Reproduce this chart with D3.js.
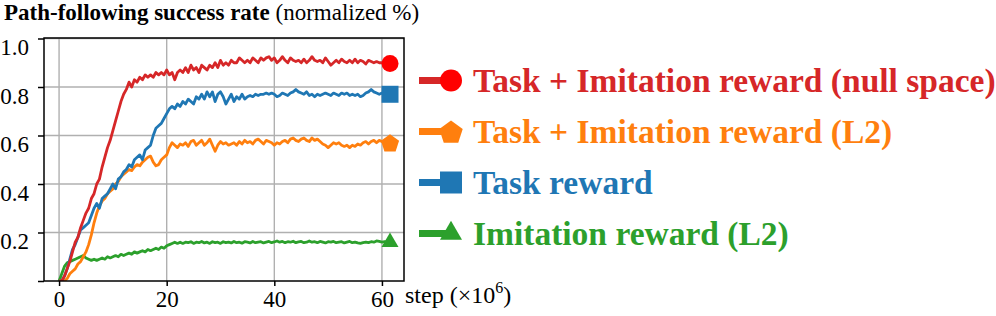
<!DOCTYPE html>
<html>
<head>
<meta charset="utf-8">
<script src="https://cdn.jsdelivr.net/npm/d3@7"></script>
<style>
  body { margin: 0; background: #fff; }
  svg { display: block; }
  svg text { font-family: "Liberation Serif", Tinos, "DejaVu Serif", serif; }
</style>
</head>
<body>
<svg width="996" height="316"></svg>
<script>
// training curves, one value every 0.5 x 10^6 steps
var stepSize = 0.5;

var nullSpace = [
  0, 0, 0.02, 0.05, 0.08, 0.12, 0.16, 0.18, 0.22, 0.25,
  0.28, 0.30, 0.34, 0.36, 0.40, 0.42, 0.47, 0.51, 0.55, 0.58,
  0.62, 0.66, 0.70, 0.74, 0.77, 0.79, 0.82, 0.80, 0.83, 0.82,
  0.84, 0.83, 0.85, 0.84, 0.85, 0.84, 0.86, 0.85, 0.86, 0.85,
  0.87, 0.85, 0.86, 0.83, 0.86, 0.87, 0.86, 0.88, 0.86, 0.89,
  0.87, 0.88, 0.86, 0.89, 0.88, 0.87, 0.89, 0.88, 0.90, 0.88,
  0.91, 0.89, 0.90, 0.89, 0.91, 0.90, 0.90, 0.92, 0.91, 0.90,
  0.91, 0.90, 0.92, 0.91, 0.90, 0.92, 0.91, 0.92, 0.925, 0.91,
  0.92, 0.90, 0.91, 0.925, 0.91, 0.90, 0.92, 0.91, 0.905, 0.91,
  0.90, 0.915, 0.90, 0.91, 0.925, 0.91, 0.905, 0.91, 0.90, 0.92,
  0.905, 0.89, 0.90, 0.91, 0.90, 0.915, 0.905, 0.90, 0.91, 0.90,
  0.915, 0.90, 0.91, 0.905, 0.895, 0.91, 0.905, 0.90, 0.905, 0.90,
  0.90, 0.895, 0.90, 0.897
];

var taskImitL2 = [
  0, 0, 0, 0.01, 0.03, 0.04, 0.05, 0.07, 0.08, 0.10,
  0.12, 0.15, 0.19, 0.24, 0.28, 0.31, 0.33, 0.34, 0.36, 0.37,
  0.38, 0.40, 0.41, 0.43, 0.44, 0.45, 0.46, 0.455, 0.47, 0.48,
  0.475, 0.49, 0.50, 0.51, 0.515, 0.49, 0.475, 0.48, 0.50, 0.51,
  0.52, 0.55, 0.57, 0.56, 0.55, 0.565, 0.56, 0.57, 0.555, 0.575,
  0.58, 0.56, 0.57, 0.58, 0.56, 0.57, 0.585, 0.56, 0.535, 0.56,
  0.575, 0.565, 0.57, 0.56, 0.565, 0.57, 0.56, 0.575, 0.565, 0.58,
  0.57, 0.575, 0.565, 0.58, 0.585, 0.575, 0.565, 0.58, 0.575, 0.57,
  0.56, 0.57, 0.565, 0.575, 0.58, 0.57, 0.585, 0.59, 0.58, 0.575,
  0.585, 0.59, 0.58, 0.575, 0.59, 0.58, 0.585, 0.575, 0.565, 0.56,
  0.55, 0.56, 0.57, 0.565, 0.57, 0.56, 0.555, 0.56, 0.55, 0.56,
  0.555, 0.565, 0.56, 0.57, 0.575, 0.565, 0.575, 0.58, 0.57, 0.58,
  0.575, 0.57, 0.575, 0.57
];

var taskOnly = [
  0, 0, 0.02, 0.05, 0.09, 0.13, 0.15, 0.18, 0.21, 0.22,
  0.23, 0.24, 0.27, 0.30, 0.32, 0.30, 0.34, 0.35, 0.36, 0.38,
  0.40, 0.38, 0.42, 0.43, 0.45, 0.46, 0.48, 0.47, 0.50, 0.51,
  0.52, 0.50, 0.54, 0.55, 0.56, 0.60, 0.63, 0.64, 0.65, 0.67,
  0.69, 0.71, 0.72, 0.71, 0.73, 0.72, 0.74, 0.73, 0.75, 0.74,
  0.73, 0.76, 0.75, 0.77, 0.75, 0.78, 0.76, 0.78, 0.74, 0.77,
  0.78, 0.76, 0.73, 0.75, 0.77, 0.74, 0.76, 0.75, 0.77, 0.75,
  0.76, 0.765, 0.76, 0.77, 0.765, 0.77, 0.77, 0.775, 0.77, 0.775,
  0.77, 0.76, 0.765, 0.775, 0.77, 0.765, 0.775, 0.78, 0.79, 0.78,
  0.775, 0.77, 0.78, 0.765, 0.77, 0.76, 0.77, 0.765, 0.77, 0.775,
  0.77, 0.765, 0.775, 0.77, 0.765, 0.775, 0.77, 0.775, 0.765, 0.77,
  0.765, 0.77, 0.76, 0.765, 0.775, 0.78, 0.79, 0.78, 0.775, 0.77,
  0.775, 0.77, 0.77, 0.77
];

var imitL2 = [
  0, 0.03, 0.06, 0.075, 0.08, 0.085, 0.09, 0.095, 0.10, 0.105,
  0.095, 0.09, 0.085, 0.09, 0.085, 0.09, 0.095, 0.09, 0.10, 0.095,
  0.10, 0.105, 0.10, 0.11, 0.105, 0.11, 0.115, 0.11, 0.12, 0.115,
  0.12, 0.125, 0.12, 0.13, 0.125, 0.13, 0.135, 0.13, 0.14, 0.135,
  0.145, 0.15, 0.155, 0.16, 0.155, 0.16, 0.155, 0.16, 0.158, 0.162,
  0.155, 0.16, 0.158, 0.163, 0.157, 0.16, 0.155, 0.162, 0.158, 0.16,
  0.155, 0.162, 0.158, 0.16, 0.157, 0.163, 0.158, 0.16, 0.156, 0.162,
  0.16, 0.157, 0.163, 0.158, 0.16, 0.162, 0.157, 0.16, 0.163, 0.158,
  0.161, 0.165, 0.16, 0.163, 0.158, 0.162, 0.16, 0.164, 0.158, 0.161,
  0.163, 0.158, 0.16, 0.165, 0.16, 0.162, 0.158, 0.163, 0.16, 0.157,
  0.162, 0.16, 0.163, 0.158, 0.16, 0.162, 0.157, 0.16, 0.163, 0.158,
  0.16, 0.157, 0.155, 0.158, 0.16, 0.158, 0.162, 0.16, 0.165, 0.163,
  0.16, 0.162, 0.16, 0.16
];

var seriesNames = [
  'Task + Imitation reward (null space)',
  'Task + Imitation reward (L2)',
  'Task reward',
  'Imitation reward (L2)'
];
var seriesValues = [nullSpace, taskImitL2, taskOnly, imitL2];
var xTicks = [0, 20, 40, 60];
var yTicks = [0, 0.2, 0.4, 0.6, 0.8, 1.0];

var lineColors = ['#d62728', '#ff7f0e', '#1f77b4', '#2ca02c'];
var markerColors = ['#ff0000', '#ff7f0e', '#1f77b4', '#2ca02c'];
var markerKinds = ['circle', 'pentagon', 'square', 'triangle'];

var serif = '"Liberation Serif", Tinos, "DejaVu Serif", serif';

function markerPath(kind, s) {
  // s = rough marker width in px
  if (kind === 'circle') return d3.symbol(d3.symbolCircle, Math.PI * (s / 2) * (s / 2))();
  if (kind === 'square') return d3.symbol(d3.symbolSquare, s * s)();
  if (kind === 'triangle') return d3.symbol(d3.symbolTriangle, Math.sqrt(3) / 4 * s * s)();
  // pentagon, point up
  var r = s * 0.56, pts = [];
  for (var k = 0; k < 5; k++) {
    var a = -Math.PI / 2 + k * 2 * Math.PI / 5;
    pts.push([r * Math.cos(a), r * Math.sin(a) + r * 0.1]);
  }
  return 'M' + pts.join('L') + 'Z';
}

function main() {
  var svg = d3.select('svg');
  var left = 44, right = 404, top = 38, bottom = 281;

  var x = d3.scaleLinear().domain([-2.8, 64.1]).range([left, right]);
  var y = d3.scaleLinear().domain([0, 1]).range([bottom, top + 0.5]);

  // title
  var title = svg.append('text').attr('x', 4).attr('y', 20).attr('font-size', 23)
    .attr('font-family', serif).attr('fill', '#000');
  title.append('tspan').attr('font-weight', 'bold').text('Path-following success rate');
  title.append('tspan').text(' (normalized %)');

  // grid
  var grid = svg.append('g').attr('stroke', '#b0b0b0').attr('stroke-width', 1.4);
  grid.selectAll('.gx').data(xTicks).enter().append('line')
    .attr('x1', d => x(d)).attr('x2', d => x(d))
    .attr('y1', top).attr('y2', bottom);
  grid.selectAll('.gy').data(yTicks.filter(d => d > 0)).enter().append('line')
    .attr('x1', left).attr('x2', right)
    .attr('y1', d => y(d)).attr('y2', d => y(d));

  // curves
  var line = d3.line()
    .x((d, i) => x(i * stepSize))
    .y(d => y(d));

  svg.append('defs').append('clipPath').attr('id', 'plotclip')
    .append('rect').attr('x', left).attr('y', top).attr('width', right - left).attr('height', bottom - top);

  var curves = svg.append('g').attr('clip-path', 'url(#plotclip)');
  // draw bottom series first so red ends up on top
  [3, 1, 2, 0].forEach(function(k) {
    curves.append('path')
      .attr('d', line(seriesValues[k]))
      .attr('fill', 'none')
      .attr('stroke', lineColors[k])
      .attr('stroke-width', 2.8)
      .attr('stroke-linejoin', 'round');
  });

  // end markers
  seriesValues.forEach(function(vals, k) {
    var last = vals.length - 1;
    svg.append('path')
      .attr('d', markerPath(markerKinds[k], 17))
      .attr('transform', 'translate(' + x(last * stepSize) + ',' + y(vals[last]) + ')')
      .attr('fill', markerColors[k]);
  });

  // axes frame
  svg.append('rect')
    .attr('x', left).attr('y', top)
    .attr('width', right - left).attr('height', bottom - top)
    .attr('fill', 'none').attr('stroke', '#000').attr('stroke-width', 1.5);

  var xAxis = svg.append('g')
    .attr('transform', 'translate(0,' + bottom + ')')
    .call(d3.axisBottom(x).tickValues(xTicks).tickSize(5).tickPadding(5).tickFormat(d3.format('d')));
  xAxis.select('.domain').remove();
  xAxis.selectAll('line').attr('stroke-width', 1.5);
  xAxis.selectAll('text').attr('font-size', 23).attr('font-family', serif).attr('fill', '#000');

  var yAxis = svg.append('g')
    .attr('transform', 'translate(' + left + ',0)')
    .call(d3.axisLeft(y).tickValues(yTicks).tickSize(6).tickPadding(9)
      .tickFormat(d => d === 0 ? '' : d3.format('.1f')(d)));
  yAxis.select('.domain').remove();
  yAxis.selectAll('line').attr('stroke-width', 1.5);
  yAxis.selectAll('text').attr('font-size', 23).attr('font-family', serif)
    .attr('fill', '#000').attr('dy', '0.7em');

  // x label
  var xl = svg.append('text').attr('x', 405).attr('y', 303).attr('font-size', 24)
    .attr('font-family', serif).attr('fill', '#000');
  xl.append('tspan').text('step (\u00d710');
  xl.append('tspan').attr('dy', -10).attr('font-size', 16).text('6');
  xl.append('tspan').attr('dy', 10).text(')');

  // legend
  var legend = svg.append('g');
  var rowY = [80.5, 131.5, 182.5, 233.5];
  seriesNames.forEach(function(name, k) {
    var row = legend.append('g').attr('transform', 'translate(0,' + rowY[k] + ')');
    row.append('line')
      .attr('x1', 419).attr('x2', 448)
      .attr('y1', 0).attr('y2', 0)
      .attr('stroke', lineColors[k]).attr('stroke-width', 7);
    row.append('path')
      .attr('d', markerPath(markerKinds[k], 22))
      .attr('transform', 'translate(451,0)')
      .attr('fill', markerColors[k]);
    row.append('text')
      .attr('x', 473).attr('y', 11.5)
      .attr('font-size', 33.5).attr('font-weight', 'bold')
      .attr('font-family', serif)
      .attr('fill', lineColors[k])
      .text(name);
  });
}

main();
</script>
</body>
</html>
